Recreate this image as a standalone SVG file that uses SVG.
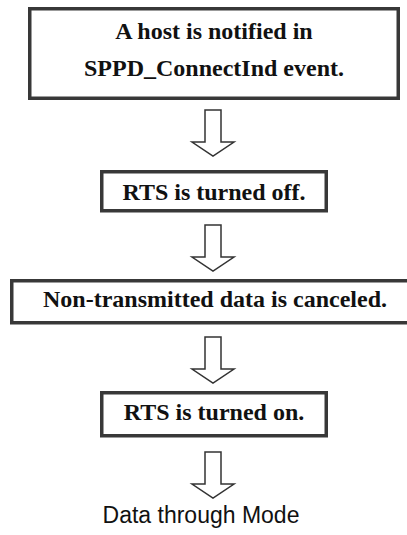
<svg xmlns="http://www.w3.org/2000/svg" width="407" height="535" viewBox="0 0 407 535">
  <style>
    .box { fill: #ffffff; stroke: #383838; stroke-width: 3.5; }
    .lbl { font-family: "Liberation Serif", "Times New Roman", serif; font-weight: bold; font-size: 24px; fill: #111111; text-anchor: middle; }
    .out { font-family: "Liberation Sans", Arial, sans-serif; font-size: 23px; fill: #111111; text-anchor: middle; }
    .flow { fill: #ffffff; stroke: #333333; stroke-width: 1.5; stroke-linejoin: miter; }
  </style>
  <defs>
    <!-- hollow block arrow, drawn with its top edge at y=0 and centred on x=0 -->
    <polygon id="down" points="-8,0 8,0 8,32 21,32 0,46 -21,32 -8,32"/>
  </defs>
  <rect width="407" height="535" fill="#ffffff"/>

  <g id="notify">
    <rect class="box" x="29.75" y="8.75" width="368.5" height="89.5"/>
    <text class="lbl" x="214" y="38.5">A host is notified in</text>
    <text class="lbl" x="214" y="76">SPPD_ConnectInd event.</text>
  </g>

  <g id="rts-off">
    <rect class="box" x="101.75" y="171.75" width="224.5" height="39"/>
    <text class="lbl" x="214" y="200">RTS is turned off.</text>
  </g>

  <g id="cancel">
    <rect class="box" x="11.75" y="280.75" width="404.5" height="42"/>
    <text class="lbl" x="215" y="307">Non-transmitted data is canceled.</text>
  </g>

  <g id="rts-on">
    <rect class="box" x="101.75" y="392.75" width="224.5" height="43"/>
    <text class="lbl" x="214" y="419.5">RTS is turned on.</text>
  </g>

  <g id="data-mode">
    <text class="out" x="201" y="523">Data through Mode</text>
  </g>

  <g id="connectors">
    <use href="#down" class="flow" x="213" y="110"/>
    <use href="#down" class="flow" x="213" y="225"/>
    <use href="#down" class="flow" x="213" y="337"/>
    <use href="#down" class="flow" x="213" y="452"/>
  </g>
</svg>
